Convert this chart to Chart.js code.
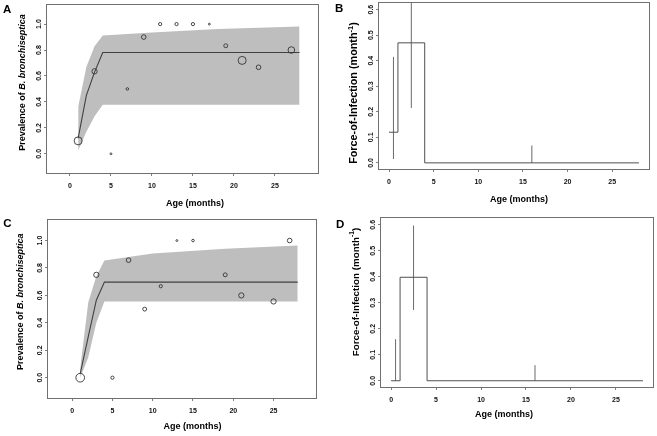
<!DOCTYPE html>
<html><head><meta charset="utf-8">
<script src="https://cdn.jsdelivr.net/npm/chart.js@4/dist/chart.umd.min.js"></script>
<style>
html,body{margin:0;padding:0;background:#fff;width:657px;height:436px;overflow:hidden}
canvas{position:absolute}
</style></head><body>
<canvas id="cA" width="328" height="214" style="left:0;top:0"></canvas>
<canvas id="cB" width="327" height="214" style="left:330px;top:0"></canvas>
<canvas id="cC" width="328" height="221" style="left:0;top:215px"></canvas>
<canvas id="cD" width="327" height="221" style="left:330px;top:215px"></canvas>
<script>
// ---------- data ----------
const xTicks = [0, 5, 10, 15, 20, 25];
const prevTicks = [0, 0.2, 0.4, 0.6, 0.8, 1.0];
const foiTicks = [0, 0.1, 0.2, 0.3, 0.4, 0.5, 0.6];

// Panel A
const ageA = [1, 3, 5, 7, 9, 11, 13, 15, 17, 19, 21, 23, 27];
const prevA = [0.10, 0.636, 0.0, 0.5, 0.90, 1.0, 1.0, 1.0, 1.0, 0.833, 0.72, 0.667, 0.80];
const nA = [10, 6, 1, 2, 5, 3, 3, 3, 1, 4, 10, 5, 8];
const fitAgeA = [1, 2, 3, 4, 28];
const fitA = [0.12, 0.45, 0.63, 0.781, 0.781];
const bandAgeA = [1, 2, 3, 4, 10, 18, 28];
const bandHiA = [0.36, 0.67, 0.83, 0.912, 0.935, 0.962, 0.982];
const bandLoA = [0.025, 0.17, 0.29, 0.378, 0.378, 0.378, 0.378];

// Panel B
const stepAgeB = [0, 1, 4, 28];
const stepB = [0.12, 0.47, 0, 0];
const ciAgeB = [0.5, 2.5, 16];
const ciLoB = [0.015, 0.215, 0];
const ciHiB = [0.415, 0.75, 0.068];

// Panel C
const ageC = [1, 3, 5, 7, 9, 11, 13, 15, 19, 21, 25, 27];
const prevC = [0.0, 0.75, 0.0, 0.857, 0.5, 0.667, 1.0, 1.0, 0.75, 0.6, 0.556, 1.0];
const nC = [11, 6, 3, 5, 4, 3, 1, 2, 4, 6, 6, 5];
const fitAgeC = [1, 2, 3, 4, 28];
const fitC = [0.03, 0.30, 0.565, 0.697, 0.697];
const bandAgeC = [1, 2, 3, 4, 10, 19, 28];
const bandHiC = [0.07, 0.55, 0.74, 0.855, 0.905, 0.94, 0.964];
const bandLoC = [0.0, 0.15, 0.40, 0.555, 0.555, 0.555, 0.555];

// Panel D
const stepAgeD = [0, 1, 4, 28];
const stepD = [0, 0.398, 0, 0];
const ciAgeD = [0.5, 2.5, 16];
const ciLoD = [0, 0.272, 0];
const ciHiD = [0.16, 0.597, 0.06];

// ---------- helpers ----------
const FONT = '"Liberation Sans", Arial, Helvetica, sans-serif';
const xy = (xs, ys) => xs.map((x, i) => ({x: x, y: ys[i]}));
const bars = (xs, lo, hi) => xs.flatMap((x, i) => [{x: x, y: lo[i]}, {x: x, y: hi[i]}, {x: x, y: null}]);
const radiusFor = n => 0.6 + 0.34 * n;

const decoPlugin = {
  id: 'panelDeco',
  afterDatasetsDraw(chart, args, o) {
    const ctx = chart.ctx, a = chart.chartArea;
    ctx.save();
    ctx.strokeStyle = '#707070';
    ctx.lineWidth = 1;
    ctx.strokeRect(Math.round(a.left) - 0.5, Math.round(a.top) - 0.5,
                   Math.round(a.right) - Math.round(a.left) + 1, Math.round(a.bottom) - Math.round(a.top) + 1);
    ctx.restore();
  },
  afterDraw(chart, args, o) {
    const ctx = chart.ctx;
    ctx.save();
    ctx.fillStyle = '#000';
    // panel letter
    ctx.font = 'bold 11.5px ' + FONT;
    ctx.textAlign = 'left'; ctx.textBaseline = 'alphabetic';
    ctx.fillText(o.letter, o.letterPos[0], o.letterPos[1]);
    // x title
    ctx.font = 'bold 9px ' + FONT;
    ctx.textAlign = 'center'; ctx.textBaseline = 'middle';
    ctx.fillText(o.xTitle, o.xTitlePos[0], o.xTitlePos[1]);
    // y title (mixed styles)
    const parts = o.yTitle, fs = o.yTitleSize;
    const fontOf = p => (p.italic ? 'italic ' : '') + 'bold ' + (p.sup ? fs * 0.7 : fs) + 'px ' + FONT;
    let total = 0;
    parts.forEach(p => { ctx.font = fontOf(p); total += ctx.measureText(p.t).width; });
    ctx.translate(o.yTitlePos[0], o.yTitlePos[1]);
    ctx.rotate(-Math.PI / 2);
    ctx.textAlign = 'left'; ctx.textBaseline = 'middle';
    let x = -total / 2;
    parts.forEach(p => {
      ctx.font = fontOf(p);
      ctx.fillText(p.t, x, p.sup ? -fs * 0.33 : 0);
      x += ctx.measureText(p.t).width;
    });
    ctx.restore();
  }
};

function makeChart(id, p) {
  const canvas = document.getElementById(id);
  const W = canvas.width, H = canvas.height;
  const [L, T, R, B] = p.area;
  return new Chart(canvas, {
    type: 'line',
    data: {datasets: p.datasets},
    plugins: [decoPlugin],
    options: {
      responsive: false, animation: false, devicePixelRatio: 1,
      layout: {padding: {left: 0, top: T, right: W - R, bottom: 0}},
      plugins: {legend: {display: false}, tooltip: {enabled: false}, panelDeco: p.deco},
      elements: {line: {tension: 0}},
      scales: {
        x: {
          type: 'linear', min: p.xMin, max: p.xMax,
          afterBuildTicks: s => { s.ticks = xTicks.map(v => ({value: v})); },
          afterFit: s => { s.height = H - B; s.paddingLeft = 0; s.paddingRight = 0; },
          grid: {display: true, drawOnChartArea: false, drawTicks: true, tickLength: 3, color: '#808080', tickColor: '#808080'},
          border: {display: false},
          ticks: {font: {family: FONT, size: 7, weight: 'bold'}, color: '#111', padding: p.xTickPad,
                  maxRotation: 0, minRotation: 0, autoSkip: false, callback: v => String(v)}
        },
        y: {
          type: 'linear', min: p.yMin, max: p.yMax,
          afterBuildTicks: s => { s.ticks = p.yTicks.map(v => ({value: v})); },
          afterFit: s => { s.width = L; s.paddingTop = 0; s.paddingBottom = 0; },
          grid: {display: true, drawOnChartArea: false, drawTicks: true, tickLength: 3, color: '#808080', tickColor: '#808080'},
          border: {display: false},
          ticks: {font: {family: FONT, size: 7, weight: 'bold'}, color: '#111', padding: p.yTickPad,
                  minRotation: 90, maxRotation: 90, crossAlign: 'center', autoSkip: false,
                  callback: v => v.toFixed(1)}
        }
      }
    }
  });
}

function prevDatasets(age, prev, n, fitAge, fit, bandAge, hi, lo) {
  return [
    {type: 'scatter', data: xy(age, prev), showLine: false,
     pointRadius: c => radiusFor(n[c.dataIndex]), pointHoverRadius: c => radiusFor(n[c.dataIndex]),
     pointBackgroundColor: 'rgba(0,0,0,0)', pointBorderColor: '#333', pointBorderWidth: 0.9},
    {data: xy(fitAge, fit), borderColor: '#404040', borderWidth: 1.1, pointRadius: 0, fill: false},
    {data: xy(bandAge, hi), borderWidth: 0, pointRadius: 0, fill: false},
    {data: xy(bandAge, lo), borderWidth: 0, pointRadius: 0, fill: '-1', backgroundColor: '#bebebe'}
  ];
}
function foiDatasets(stepAge, step, ciAge, lo, hi) {
  return [
    {data: xy(stepAge, step), stepped: 'before', borderColor: '#505050', borderWidth: 1, pointRadius: 0, fill: false},
    {data: bars(ciAge, lo, hi), spanGaps: false, borderColor: '#6a6a6a', borderWidth: 1, pointRadius: 0, fill: false}
  ];
}

const prevTitle = [{t: 'Prevalence of '}, {t: 'B. bronchiseptica', italic: true}];
const foiTitle = [{t: 'Force-of-Infection (month'}, {t: '-1', sup: true}, {t: ')'}];

makeChart('cA', {
  area: [47, 3, 318, 173], xMin: -2.8, xMax: 30.25, yMin: -0.148, yMax: 1.148, yTicks: prevTicks,
  xTickPad: 6, yTickPad: 0,
  datasets: prevDatasets(ageA, prevA, nA, fitAgeA, fitA, bandAgeA, bandHiA, bandLoA),
  deco: {letter: 'A', letterPos: [3, 13.3], xTitle: 'Age (months)', xTitlePos: [195, 204],
         yTitle: prevTitle, yTitleSize: 9, yTitlePos: [22.5, 82.5]}
});
makeChart('cB', {
  area: [49, 3, 319, 169], xMin: -1.12, xMax: 29.12, yMin: -0.024, yMax: 0.626, yTicks: foiTicks,
  xTickPad: 6, yTickPad: 0,
  datasets: foiDatasets(stepAgeB, stepB, ciAgeB, ciLoB, ciHiB),
  deco: {letter: 'B', letterPos: [5, 11.7], xTitle: 'Age (months)', xTitlePos: [189, 200],
         yTitle: foiTitle, yTitleSize: 10.8, yTitlePos: [24.5, 93]}
});
makeChart('cC', {
  area: [48, 3, 316, 183], xMin: -3.0, xMax: 30.27, yMin: -0.148, yMax: 1.148, yTicks: prevTicks,
  xTickPad: 6, yTickPad: 0,
  datasets: prevDatasets(ageC, prevC, nC, fitAgeC, fitC, bandAgeC, bandHiC, bandLoC),
  deco: {letter: 'C', letterPos: [3.3, 11.7], xTitle: 'Age (months)', xTitlePos: [192.5, 211.7],
         yTitle: prevTitle, yTitleSize: 9, yTitlePos: [21, 86.7]}
});
makeChart('cD', {
  area: [51, 3, 323, 172], xMin: -1.12, xMax: 29.12, yMin: -0.024, yMax: 0.626, yTicks: foiTicks,
  xTickPad: 6, yTickPad: 0,
  datasets: foiDatasets(stepAgeD, stepD, ciAgeD, ciLoD, ciHiD),
  deco: {letter: 'D', letterPos: [6, 12.7], xTitle: 'Age (months)', xTitlePos: [174, 200],
         yTitle: foiTitle, yTitleSize: 9.8, yTitlePos: [25.8, 77]}
});
</script>
</body></html>
